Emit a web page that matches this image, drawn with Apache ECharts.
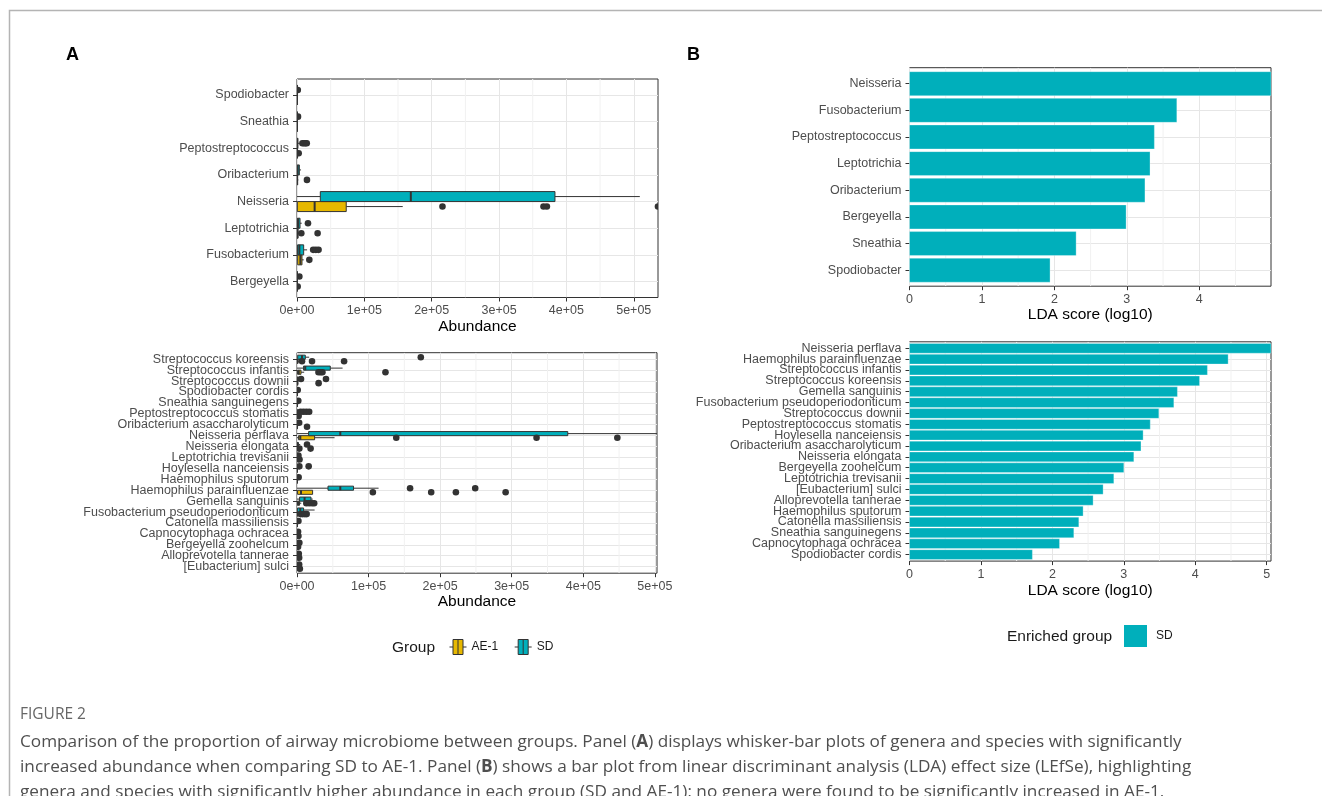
<!DOCTYPE html>
<html>
<head>
<meta charset="utf-8">
<script src="https://cdn.jsdelivr.net/npm/echarts@6/dist/echarts.min.js"></script>
<style>
html,body{margin:0;padding:0;background:#fff;}
#chart{width:1322px;height:796px;}
</style>
</head>
<body>
<div id="chart"></div>
<script>
// ---------------- DATA ----------------
// Panel A (top): genera, listed bottom -> top. Box stats: [min, q1, median, q3, max]
const genusNames = ['Bergeyella','Fusobacterium','Leptotrichia','Neisseria','Oribacterium','Peptostreptococcus','Sneathia','Spodiobacter'];
const genusBoxSD = [
  [0,0,0,500,1200],
  [0,800,3500,9900,15000],
  [0,500,1500,4500,7000],
  [0,34600,169000,383000,509000],
  [0,300,1000,3500,6000],
  [0,0,300,1200,3000],
  [0,0,0,200,500],
  [0,0,0,200,500]
];
const genusBoxAE1 = [
  [0,0,0,0,300],
  [0,1000,5000,7400,10000],
  [0,0,500,1500,3000],
  [0,500,26200,73100,157000],
  [0,0,200,800,2000],
  [0,0,100,400,1000],
  [0,0,0,0,0],
  [0,0,0,0,0]
];
const genusOutliersSD = [
  ['Bergeyella',3500],['Fusobacterium',24000],['Fusobacterium',28000],['Fusobacterium',32000],
  ['Leptotrichia',16300],['Peptostreptococcus',8000],['Peptostreptococcus',10500],
  ['Peptostreptococcus',12500],['Peptostreptococcus',14500],['Sneathia',1500],['Spodiobacter',1200]
];
const genusOutliersAE1 = [
  ['Bergeyella',1000],['Fusobacterium',18300],['Leptotrichia',6400],['Leptotrichia',30600],
  ['Neisseria',216000],['Neisseria',366000],['Neisseria',371000],['Neisseria',536000],
  ['Oribacterium',14800],['Peptostreptococcus',2500]
];

// Panel A (bottom): species, listed bottom -> top
const speciesNames = [
  '[Eubacterium] sulci','Alloprevotella tannerae','Bergeyella zoohelcum','Capnocytophaga ochracea',
  'Catonella massiliensis','Fusobacterium pseudoperiodonticum','Gemella sanguinis',
  'Haemophilus parainfluenzae','Haemophilus sputorum','Hoylesella nanceiensis',
  'Leptotrichia trevisanii','Neisseria elongata','Neisseria perflava',
  'Oribacterium asaccharolyticum','Peptostreptococcus stomatis','Sneathia sanguinegens',
  'Spodiobacter cordis','Streptococcus downii','Streptococcus infantis','Streptococcus koreensis'
];
const speciesBoxSD = [
  [0,0,0,500,1500],[0,0,0,500,1500],[0,0,0,500,1500],[0,0,0,300,800],[0,0,0,300,800],
  [0,800,4600,9200,24600],[0,3600,10600,19500,22000],[0,43300,60500,79000,114000],
  [0,0,0,300,800],[0,0,300,1000,2500],[0,0,0,300,1000],[0,0,500,2000,4500],
  [0,16200,60500,378300,503000],[0,0,300,800,2000],[0,0,300,1000,2500],
  [0,0,0,0,0],[0,0,0,0,0],[0,0,500,2000,4000],[0,9200,11500,46500,63700],[0,1000,7000,11600,17000]
];
const speciesBoxAE1 = [
  [0,0,0,0,500],[0,0,0,0,500],[0,0,0,0,300],[0,0,0,0,300],[0,0,0,0,0],
  [0,0,300,1000,2500],[0,500,1500,3600,6000],[0,800,5600,21800,21800],
  [0,0,0,0,0],[0,0,0,300,1000],[0,0,0,300,1000],[0,0,0,500,1500],
  [0,2200,4600,24600,52500],[0,0,0,500,1500],[0,0,0,300,800],
  [0,0,0,0,0],[0,0,0,0,0],[0,0,300,1000,2000],[0,800,2500,5600,10000],[0,0,500,1500,3000]
];
const speciesOutliersSD = [
  ['[Eubacterium] sulci',3000],['Alloprevotella tannerae',2500],['Bergeyella zoohelcum',3300],
  ['Capnocytophaga ochracea',1500],['Catonella massiliensis',2000],
  ['Haemophilus parainfluenzae',158000],['Haemophilus parainfluenzae',249000],
  ['Haemophilus sputorum',2300],['Hoylesella nanceiensis',3300],['Hoylesella nanceiensis',16300],
  ['Leptotrichia trevisanii',2000],['Neisseria elongata',14000],['Oribacterium asaccharolyticum',3000],
  ['Peptostreptococcus stomatis',5000],['Peptostreptococcus stomatis',9000],
  ['Peptostreptococcus stomatis',13000],['Peptostreptococcus stomatis',17000],
  ['Sneathia sanguinegens',1800],['Spodiobacter cordis',1000],
  ['Streptococcus downii',5600],['Streptococcus downii',40500],['Streptococcus koreensis',173000]
];
const speciesOutliersAE1 = [
  ['[Eubacterium] sulci',4000],['Alloprevotella tannerae',3000],['Bergeyella zoohelcum',1500],
  ['Capnocytophaga ochracea',2000],
  ['Fusobacterium pseudoperiodonticum',5000],['Fusobacterium pseudoperiodonticum',8000],
  ['Fusobacterium pseudoperiodonticum',11000],['Fusobacterium pseudoperiodonticum',13500],
  ['Gemella sanguinis',13000],['Gemella sanguinis',17000],['Gemella sanguinis',21000],['Gemella sanguinis',24000],
  ['Haemophilus parainfluenzae',106000],['Haemophilus parainfluenzae',187500],
  ['Haemophilus parainfluenzae',222000],['Haemophilus parainfluenzae',291500],
  ['Leptotrichia trevisanii',3500],['Neisseria elongata',3300],['Neisseria elongata',19000],
  ['Neisseria perflava',138700],['Neisseria perflava',334700],['Neisseria perflava',447600],
  ['Oribacterium asaccharolyticum',14000],['Peptostreptococcus stomatis',2300],
  ['Streptococcus downii',30200],
  ['Streptococcus infantis',30000],['Streptococcus infantis',33000],['Streptococcus infantis',35500],['Streptococcus infantis',123600],
  ['Streptococcus koreensis',7000],['Streptococcus koreensis',21000],['Streptococcus koreensis',65800]
];

// Panel B: LDA scores, listed top -> bottom
const genusLDANames = ['Neisseria','Fusobacterium','Peptostreptococcus','Leptotrichia','Oribacterium','Bergeyella','Sneathia','Spodiobacter'];
const genusLDA = [4.99,3.69,3.38,3.32,3.25,2.99,2.30,1.94];
const speciesLDANames = [
  'Neisseria perflava','Haemophilus parainfluenzae','Streptococcus infantis','Streptococcus koreensis',
  'Gemella sanguinis','Fusobacterium pseudoperiodonticum','Streptococcus downii','Peptostreptococcus stomatis',
  'Hoylesella nanceiensis','Oribacterium asaccharolyticum','Neisseria elongata','Bergeyella zoohelcum',
  'Leptotrichia trevisanii','[Eubacterium] sulci','Alloprevotella tannerae','Haemophilus sputorum',
  'Catonella massiliensis','Sneathia sanguinegens','Capnocytophaga ochracea','Spodiobacter cordis'
];
const speciesLDA = [5.06,4.46,4.17,4.06,3.75,3.70,3.49,3.37,3.27,3.24,3.14,3.00,2.86,2.71,2.57,2.43,2.37,2.30,2.10,1.72];

// Tick values / labels and minor gridline positions
const abundanceTicks = [0,100000,200000,300000,400000,500000];
const abundanceTickLabels = ['0e+00','1e+05','2e+05','3e+05','4e+05','5e+05'];
const abundanceMinor = [50000,150000,250000,350000,450000];
const ldaTicks = [0,1,2,3,4,5];
const ldaTickLabels = ['0','1','2','3','4','5'];
const ldaMinor = [0.5,1.5,2.5,3.5,4.5];

// ---------------- STYLE ----------------
const FONT = 'Liberation Sans, Arial, Helvetica, sans-serif';
const CAP_FONT = 'Open Sans, Noto Sans, sans-serif';
const C_SD = '#00AFBB', C_AE = '#E7B800';
const INK = '#333333';

function boxData(stats){ return stats.map((s,i)=>[i+1].concat(s)); }
function outData(list, names){ return list.map(o=>[names.indexOf(o[0])+1, o[1]]); }
function maxOf(boxesA, boxesB, outA, outB){
  let m = 0;
  boxesA.concat(boxesB).forEach(s=>{ m=Math.max(m, s[4]); });
  outA.concat(outB).forEach(o=>{ m=Math.max(m, o[1]); });
  return m;
}

function boxRender(dodge){
  return function(params, api){
    const c = api.value(0) + dodge;
    const pt = k => api.coord([api.value(k), c]);
    const h = api.size([0, 0.375])[1];
    const yc = pt(1)[1];
    const xMin = pt(1)[0], xQ1 = pt(2)[0], xMed = pt(3)[0], xQ3 = pt(4)[0], xMax = pt(5)[0];
    return {type:'group', children:[
      {type:'line', shape:{x1:xMin,y1:yc,x2:xQ1,y2:yc}, style:{stroke:INK,lineWidth:1}},
      {type:'line', shape:{x1:xQ3,y1:yc,x2:xMax,y2:yc}, style:{stroke:INK,lineWidth:1}},
      {type:'rect', shape:{x:xQ1,y:yc-h/2,width:xQ3-xQ1,height:h}, style:{fill:api.visual('color'),stroke:INK,lineWidth:1}},
      {type:'line', shape:{x1:xMed,y1:yc-h/2,x2:xMed,y2:yc+h/2}, style:{stroke:INK,lineWidth:2}}
    ]};
  };
}
function dotRender(dodge){
  return function(params, api){
    const p = api.coord([api.value(1), api.value(0)+dodge]);
    return {type:'circle', shape:{cx:p[0],cy:p[1],r:3.3}, style:{fill:'#333333'}};
  };
}
function barRender(params, api){
  const y = api.value(0);
  const p0 = api.coord([0,y]), p1 = api.coord([api.value(1),y]);
  const h = api.size([0,0.9])[1];
  return {type:'rect', shape:{x:p0[0],y:p0[1]-h/2,width:p1[0]-p0[0],height:h},
    style:{fill:C_SD, stroke:'rgba(255,255,255,0.5)', lineWidth:0.6}};
}
// minor vertical gridlines (ggplot-style), positioned through the x scale
function minorGridSeries(xAxisIndex, yAxisIndex, values, max, nCat){
  return {type:'custom', name:'minor', xAxisIndex, yAxisIndex, z:1, silent:true, clip:true,
    encode:{x:0}, data:values.filter(v=>v<max).map(v=>[v]),
    renderItem:function(params, api){
      const a = api.coord([api.value(0), 0.4]);
      const b = api.coord([api.value(0), nCat+0.6]);
      return {type:'line', shape:{x1:a[0],y1:a[1],x2:b[0],y2:b[1]}, style:{stroke:'#f1f1f1', lineWidth:1}};
    }};
}
// category tick labels, positioned through the y scale at the axis origin
function catLabelSeries(xAxisIndex, yAxisIndex, names){
  return {type:'custom', name:'labels', xAxisIndex, yAxisIndex, z:3, silent:true, clip:false,
    encode:{x:0, y:1}, data:names.map((n,i)=>[0, i+1]),
    renderItem:function(params, api){
      const p = api.coord([api.value(0), api.value(1)]);
      return {type:'text', x:p[0]-8, y:p[1],
        style:{text:names[params.dataIndex], align:'right', verticalAlign:'middle',
          fill:'#4d4d4d', fontSize:12.5, fontFamily:FONT}};
    }};
}

function xAxis(gridIndex, max, ticks, labels, major, title, nameGap){
  const vis = ticks.filter(t=>t<=max);
  return {type:'value', gridIndex, min:0, max, interval:major, position:'bottom',
    axisLine:{show:false},
    axisTick:{show:true, length:4, customValues:vis, lineStyle:{color:INK,width:1}},
    axisLabel:{customValues:vis, formatter:v=>labels[ticks.indexOf(v)], showMinLabel:true, showMaxLabel:true,
      color:'#4d4d4d', fontSize:12.5, fontFamily:FONT, margin:7},
    splitLine:{show:true, lineStyle:{color:'#e6e6e6',width:1}},
    name:title, nameLocation:'middle', nameGap,
    nameTextStyle:{color:'#000', fontSize:15.5, fontFamily:FONT}};
}
function yAxisCat(gridIndex, names, inverse){
  const pos = names.map((_,i)=>i+1);
  return {type:'value', gridIndex, min:0.4, max:names.length+0.6, inverse,
    axisLine:{show:false},
    axisTick:{show:true, length:4, customValues:pos, lineStyle:{color:INK,width:1}},
    axisLabel:{show:false},
    splitLine:{show:true, lineStyle:{color:'#e6e6e6',width:1}}};
}

const gMax = maxOf(genusBoxSD, genusBoxAE1, genusOutliersSD, genusOutliersAE1);
const sMax = maxOf(speciesBoxSD, speciesBoxAE1, speciesOutliersSD, speciesOutliersAE1);
const gLDAmax = Math.max.apply(null, genusLDA);
const sLDAmax = Math.max.apply(null, speciesLDA);

const gridBase = {show:true, borderColor:INK, borderWidth:1, outerBoundsMode:'none', containLabel:false};

const boxIcon = 'path://M0,8.5L3.5,8.5M3.5,1L13.5,1L13.5,16L3.5,16ZM8.5,1L8.5,16M13.5,8.5L17,8.5';

const caption =
  'Comparison of the proportion of airway microbiome between groups. Panel ({b|A}) displays whisker-bar plots of genera and species with significantly\n' +
  'increased abundance when comparing SD to AE-1. Panel ({b|B}) shows a bar plot from linear discriminant analysis (LDA) effect size (LEfSe), highlighting\n' +
  'genera and species with significantly higher abundance in each group (SD and AE-1); no genera were found to be significantly increased in AE-1.';

const option = {
  backgroundColor:'#ffffff',
  animation:false,
  graphic:[
    {type:'polyline', silent:true, shape:{points:[[9.5,796],[9.5,10.5],[1322,10.5]]},
      style:{stroke:'#b4b4b4', lineWidth:1.5, fill:null}}
  ],
  title:[
    {text:'A', left:66, top:46, padding:0, textStyle:{fontSize:18, fontWeight:'bold', color:'#000', fontFamily:FONT}},
    {text:'B', left:687, top:46, padding:0, textStyle:{fontSize:18, fontWeight:'bold', color:'#000', fontFamily:FONT}},
    {text:'Group', left:392, top:640, padding:0, textStyle:{fontSize:15.5, fontWeight:'normal', color:'#1a1a1a', fontFamily:FONT}},
    {text:'Enriched group', left:1007, top:629, padding:0, textStyle:{fontSize:15.5, fontWeight:'normal', color:'#1a1a1a', fontFamily:FONT}},
    {text:'FIGURE 2', left:20, top:707, padding:0, textStyle:{fontSize:15.5, fontWeight:'normal', color:'#666', fontFamily:CAP_FONT}},
    {text:caption, left:20, top:730, padding:0,
      textStyle:{fontSize:17.2, lineHeight:25, fontWeight:'normal', color:'#4f4f4f', fontFamily:CAP_FONT,
        rich:{b:{fontSize:17.2, lineHeight:25, fontWeight:'bold', color:'#4f4f4f', fontFamily:CAP_FONT}}}}
  ],
  legend:[
    {left:449, top:639, orient:'horizontal', padding:0, itemWidth:17, itemHeight:18, itemGap:16, selectedMode:false,
      textStyle:{fontSize:12, color:'#1a1a1a', fontFamily:FONT},
      data:[
        {name:'AE-1', icon:boxIcon, itemStyle:{color:C_AE, borderColor:INK, borderWidth:1}},
        {name:'SD', icon:boxIcon, itemStyle:{color:C_SD, borderColor:INK, borderWidth:1}}
      ]},
    {left:1124, top:625, orient:'horizontal', padding:0, itemWidth:23, itemHeight:22, selectedMode:false,
      textStyle:{fontSize:12, color:'#1a1a1a', fontFamily:FONT, padding:[0,0,0,4]},
      data:[{name:'SD', icon:'rect', itemStyle:{color:C_SD, borderWidth:0}}]}
  ],
  grid:[
    Object.assign({left:297, top:79, width:361, height:218.5}, gridBase),
    Object.assign({left:297, top:352.7, width:360, height:220.5}, gridBase),
    Object.assign({left:909.5, top:67.7, width:361.5, height:218.5}, gridBase),
    Object.assign({left:909.5, top:341.8, width:361.5, height:219.3}, gridBase)
  ],
  xAxis:[
    xAxis(0, gMax, abundanceTicks, abundanceTickLabels, 100000, 'Abundance', 21),
    xAxis(1, sMax, abundanceTicks, abundanceTickLabels, 100000, 'Abundance', 21),
    xAxis(2, gLDAmax, ldaTicks, ldaTickLabels, 1, 'LDA score (log10)', 21),
    xAxis(3, sLDAmax, ldaTicks, ldaTickLabels, 1, 'LDA score (log10)', 22)
  ],
  yAxis:[
    yAxisCat(0, genusNames, false),
    yAxisCat(1, speciesNames, false),
    yAxisCat(2, genusLDANames, true),
    yAxisCat(3, speciesLDANames, true)
  ],
  series:[
    minorGridSeries(0, 0, abundanceMinor, gMax, genusNames.length),
    minorGridSeries(1, 1, abundanceMinor, sMax, speciesNames.length),
    minorGridSeries(2, 2, ldaMinor, gLDAmax, genusLDANames.length),
    minorGridSeries(3, 3, ldaMinor, sLDAmax, speciesLDANames.length),

    catLabelSeries(0, 0, genusNames),
    catLabelSeries(1, 1, speciesNames),
    catLabelSeries(2, 2, genusLDANames),
    catLabelSeries(3, 3, speciesLDANames),

    {type:'custom', name:'AE-1', xAxisIndex:0, yAxisIndex:0, z:2, clip:true, itemStyle:{color:C_AE},
      renderItem:boxRender(-0.1875), encode:{x:[1,2,3,4,5], y:0}, data:boxData(genusBoxAE1)},
    {type:'custom', name:'SD', xAxisIndex:0, yAxisIndex:0, z:2, clip:true, itemStyle:{color:C_SD},
      renderItem:boxRender(0.1875), encode:{x:[1,2,3,4,5], y:0}, data:boxData(genusBoxSD)},
    {type:'custom', name:'outAE', xAxisIndex:0, yAxisIndex:0, z:3, clip:true,
      renderItem:dotRender(-0.1875), encode:{x:1, y:0}, data:outData(genusOutliersAE1, genusNames)},
    {type:'custom', name:'outSD', xAxisIndex:0, yAxisIndex:0, z:3, clip:true,
      renderItem:dotRender(0.1875), encode:{x:1, y:0}, data:outData(genusOutliersSD, genusNames)},

    {type:'custom', name:'AE-1', xAxisIndex:1, yAxisIndex:1, z:2, clip:true, itemStyle:{color:C_AE},
      renderItem:boxRender(-0.1875), encode:{x:[1,2,3,4,5], y:0}, data:boxData(speciesBoxAE1)},
    {type:'custom', name:'SD', xAxisIndex:1, yAxisIndex:1, z:2, clip:true, itemStyle:{color:C_SD},
      renderItem:boxRender(0.1875), encode:{x:[1,2,3,4,5], y:0}, data:boxData(speciesBoxSD)},
    {type:'custom', name:'outAE', xAxisIndex:1, yAxisIndex:1, z:3, clip:true,
      renderItem:dotRender(-0.1875), encode:{x:1, y:0}, data:outData(speciesOutliersAE1, speciesNames)},
    {type:'custom', name:'outSD', xAxisIndex:1, yAxisIndex:1, z:3, clip:true,
      renderItem:dotRender(0.1875), encode:{x:1, y:0}, data:outData(speciesOutliersSD, speciesNames)},

    {type:'custom', name:'SD', xAxisIndex:2, yAxisIndex:2, z:2, clip:true, itemStyle:{color:C_SD},
      renderItem:barRender, encode:{x:1, y:0}, data:genusLDA.map((v,i)=>[i+1,v])},
    {type:'custom', name:'SD', xAxisIndex:3, yAxisIndex:3, z:2, clip:true, itemStyle:{color:C_SD},
      renderItem:barRender, encode:{x:1, y:0}, data:speciesLDA.map((v,i)=>[i+1,v])}
  ]
};

const chart = echarts.init(document.getElementById('chart'), null, {renderer:'canvas', width:1322, height:796});
chart.setOption(option);
</script>
</body>
</html>
